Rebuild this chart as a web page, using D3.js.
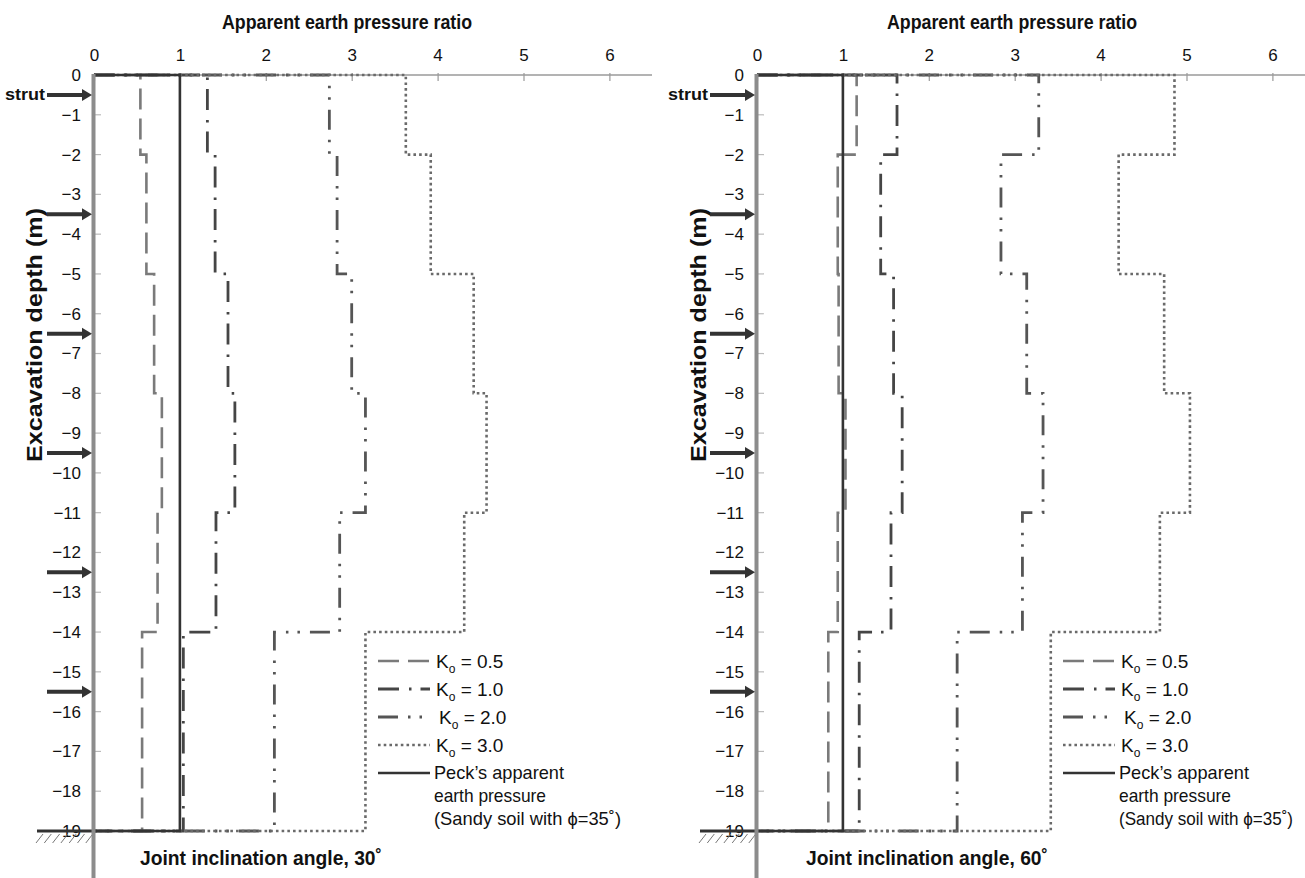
<!DOCTYPE html>
<html><head><meta charset="utf-8">
<script src="https://cdn.jsdelivr.net/npm/d3@7"></script>
<style>
html,body{margin:0;padding:0;background:#fff;}
svg text{font-family:"Liberation Sans Narrow","Arial Narrow","Liberation Sans",Arial,sans-serif;fill:#111;}
</style></head>
<body><svg id="c" width="1305" height="878"></svg>
<script>
// ---- data ----
const depthBreaks = [0, -2, -5, -8, -11, -14, -19];
const xTickValues = [0, 1, 2, 3, 4, 5, 6];
const yTickValues = d3.range(0, -20, -1);
const seriesNames = ["Ko = 0.5", "Ko = 1.0", "Ko = 2.0", "Ko = 3.0"];
const ko05_30 = [0.54, 0.61, 0.70, 0.79, 0.74, 0.56];
const ko10_30 = [1.32, 1.41, 1.56, 1.64, 1.42, 1.04];
const ko20_30 = [2.74, 2.83, 3.00, 3.16, 2.86, 2.10];
const ko30_30 = [3.63, 3.92, 4.42, 4.57, 4.31, 3.16];
const ko05_60 = [1.16, 0.94, 0.95, 1.03, 0.94, 0.83];
const ko10_60 = [1.63, 1.44, 1.59, 1.69, 1.56, 1.19];
const ko20_60 = [3.28, 2.84, 3.14, 3.33, 3.09, 2.33];
const ko30_60 = [4.86, 4.21, 4.74, 5.04, 4.69, 3.42];
const peckRatio = 1.0;
const strutDepths = [-0.5, -3.5, -6.5, -9.5, -12.5, -15.5];
const panelAngles = ["30˚", "60˚"];

const styles = [
  {color:"#7a7a7a", width:2.6, dash:"21,9"},
  {color:"#454545", width:2.8, dash:"21,10,2.5,9"},
  {color:"#555555", width:2.8, dash:"20,10,2.5,9,2.5,10"},
  {color:"#6a6a6a", width:2.6, dash:"2.6,3.1"}
];

const svg = d3.select("#c");

function stepPoints(vals){
  const pts = [[0, depthBreaks[0]]];
  vals.forEach((v,i)=>{ pts.push([v, depthBreaks[i]]); pts.push([v, depthBreaks[i+1]]); });
  pts.push([0, depthBreaks[depthBreaks.length-1]]);
  return pts;
}

function drawPanel(cfg){
  const x = d3.scaleLinear().domain([0, 1]).range([cfg.x0, cfg.x0 + 85.9]);
  const y = d3.scaleLinear().domain([0, -19]).range([75, 831]);
  const g = svg.append("g");

  // title
  g.append("text").attr("x", cfg.titleX - 125).attr("y", 29)
    .attr("textLength", 250).attr("lengthAdjust","spacingAndGlyphs")
    .style("font-size","21px").style("font-weight","bold").text("Apparent earth pressure ratio");

  // x axis
  const xAxis = d3.axisTop(x).tickValues(xTickValues).tickFormat(d3.format("d")).tickSize(-6).tickPadding(14);
  const xa = g.append("g").attr("transform",`translate(0,${y(0)})`).call(xAxis);
  xa.select(".domain").remove();
  xa.selectAll(".tick line").attr("stroke","#999").attr("stroke-width",1.2).attr("y1",-2);
  xa.selectAll(".tick text").style("font-size","17px").attr("fill","#111");
  g.append("line").attr("x1", x(0)).attr("x2", cfg.axisEnd).attr("y1", y(0)).attr("y2", y(0))
    .attr("stroke","#9a9a9a").attr("stroke-width",1.6);

  // y axis
  const yAxis = d3.axisLeft(y).tickValues(yTickValues)
    .tickFormat(d => d === 0 ? "0" : "\u2212" + Math.abs(d)).tickSize(0).tickPadding(13);
  const ya = g.append("g").attr("transform",`translate(${x(0)},0)`).call(yAxis);
  ya.select(".domain").remove();
  ya.selectAll(".tick text").style("font-size","17px").attr("fill","#111");
  g.selectAll(".ytk").data(yTickValues).join("line").attr("class","ytk")
    .attr("x1", x(0)).attr("x2", x(0)+7).attr("y1", d=>y(d)).attr("y2", d=>y(d))
    .attr("stroke","#bbb").attr("stroke-width",1.2);

  // y label
  g.append("text").attr("transform",`translate(${cfg.ylabX},${335}) rotate(-90)`)
    .attr("x", -127).attr("textLength", 254).attr("lengthAdjust","spacingAndGlyphs")
    .style("font-size","22px").style("font-weight","bold")
    .text("Excavation depth (m)");

  // series
  const line = d3.line().x(d=>x(d[0])).y(d=>y(d[1]));
  cfg.series.forEach((vals,i)=>{
    const s = styles[i];
    g.append("path").attr("d", line(stepPoints(vals))).attr("fill","none")
      .attr("stroke", s.color).attr("stroke-width", s.width).attr("stroke-dasharray", s.dash);
  });
  // Peck
  g.append("path").attr("d", line([[0,0],[peckRatio,0],[peckRatio,-19],[0,-19]]))
    .attr("fill","none").attr("stroke","#333").attr("stroke-width",2.6);

  // ground line and hatch
  g.append("line").attr("x1", x(0)-57).attr("x2", x(0)).attr("y1", y(-19)).attr("y2", y(-19))
    .attr("stroke","#333").attr("stroke-width",3);
  d3.range(7).forEach(k=>{
    const hx = x(0)-58 + k*8.3;
    g.append("line").attr("x1",hx).attr("y1",y(-19)+12).attr("x2",hx+7).attr("y2",y(-19)+3)
      .attr("stroke","#777").attr("stroke-width",1);
  });

  // vertical axis line (thick gray)
  g.append("line").attr("x1", x(0)-0.5).attr("x2", x(0)-0.5).attr("y1", y(0)-1).attr("y2", 878)
    .attr("stroke","#8c8c8c").attr("stroke-width",4);

  // struts
  strutDepths.forEach(d=>{
    const yy = y(d);
    g.append("line").attr("x1", x(0)-47).attr("x2", x(0)-10).attr("y1", yy).attr("y2", yy)
      .attr("stroke","#333").attr("stroke-width",4);
    g.append("path").attr("d", `M${x(0)-12},${yy-6} L${x(0)-2},${yy} L${x(0)-12},${yy+6} Z`).attr("fill","#333");
  });
  g.append("text").attr("x", x(0)-89).attr("y", y(-0.5)+5)
    .attr("textLength", 40).attr("lengthAdjust","spacingAndGlyphs")
    .style("font-size","16px").style("font-weight","bold").text("strut");

  // bottom label
  g.append("text").attr("x", cfg.botX).attr("y", 865)
    .attr("textLength", 242).attr("lengthAdjust","spacingAndGlyphs")
    .style("font-size","20px").style("font-weight","bold")
    .text("Joint inclination angle, " + cfg.angle);

  // legend
  const lx = cfg.legX, rows = [661, 689, 717, 745];
  seriesNames.forEach((nm,i)=>{
    const s = styles[i];
    g.append("line").attr("x1", lx).attr("x2", lx+52).attr("y1", rows[i]).attr("y2", rows[i])
      .attr("stroke", s.color).attr("stroke-width", s.width).attr("stroke-dasharray", s.dash);
    const t = g.append("text").attr("x", lx + 58 + (i===2?3:0)).attr("y", rows[i]+7).style("font-size","19px");
    t.append("tspan").text("K");
    t.append("tspan").attr("dy",5).style("font-size","12px").text("o");
    t.append("tspan").attr("dy",-5).text(nm.slice(2));
  });
  g.append("line").attr("x1", lx).attr("x2", lx+52).attr("y1", 773).attr("y2", 773)
    .attr("stroke","#333").attr("stroke-width",2.6);
  const pl = [["Peck\u2019s apparent",130],["earth pressure",112],["(Sandy soil with \u03d5=35\u02da)",cfg.lastW]];
  pl.forEach((p,i)=>{
    g.append("text").attr("x", lx+56).attr("y", 779 + i*23)
      .attr("textLength", p[1]).attr("lengthAdjust","spacingAndGlyphs")
      .style("font-size", i===2 ? cfg.lastF : "19px").text(p[0]);
  });
}

drawPanel({x0:94, axisEnd:652, titleX:347, ylabX:42, botX:140, angle:panelAngles[0], legX:378, lastW:187, lastF:"19px",
  series:[ko05_30, ko10_30, ko20_30, ko30_30]});
drawPanel({x0:757, axisEnd:1305, titleX:1012, ylabX:706, botX:806, angle:panelAngles[1], legX:1063, lastW:174, lastF:"18px",
  series:[ko05_60, ko10_60, ko20_60, ko30_60]});
</script></body></html>
